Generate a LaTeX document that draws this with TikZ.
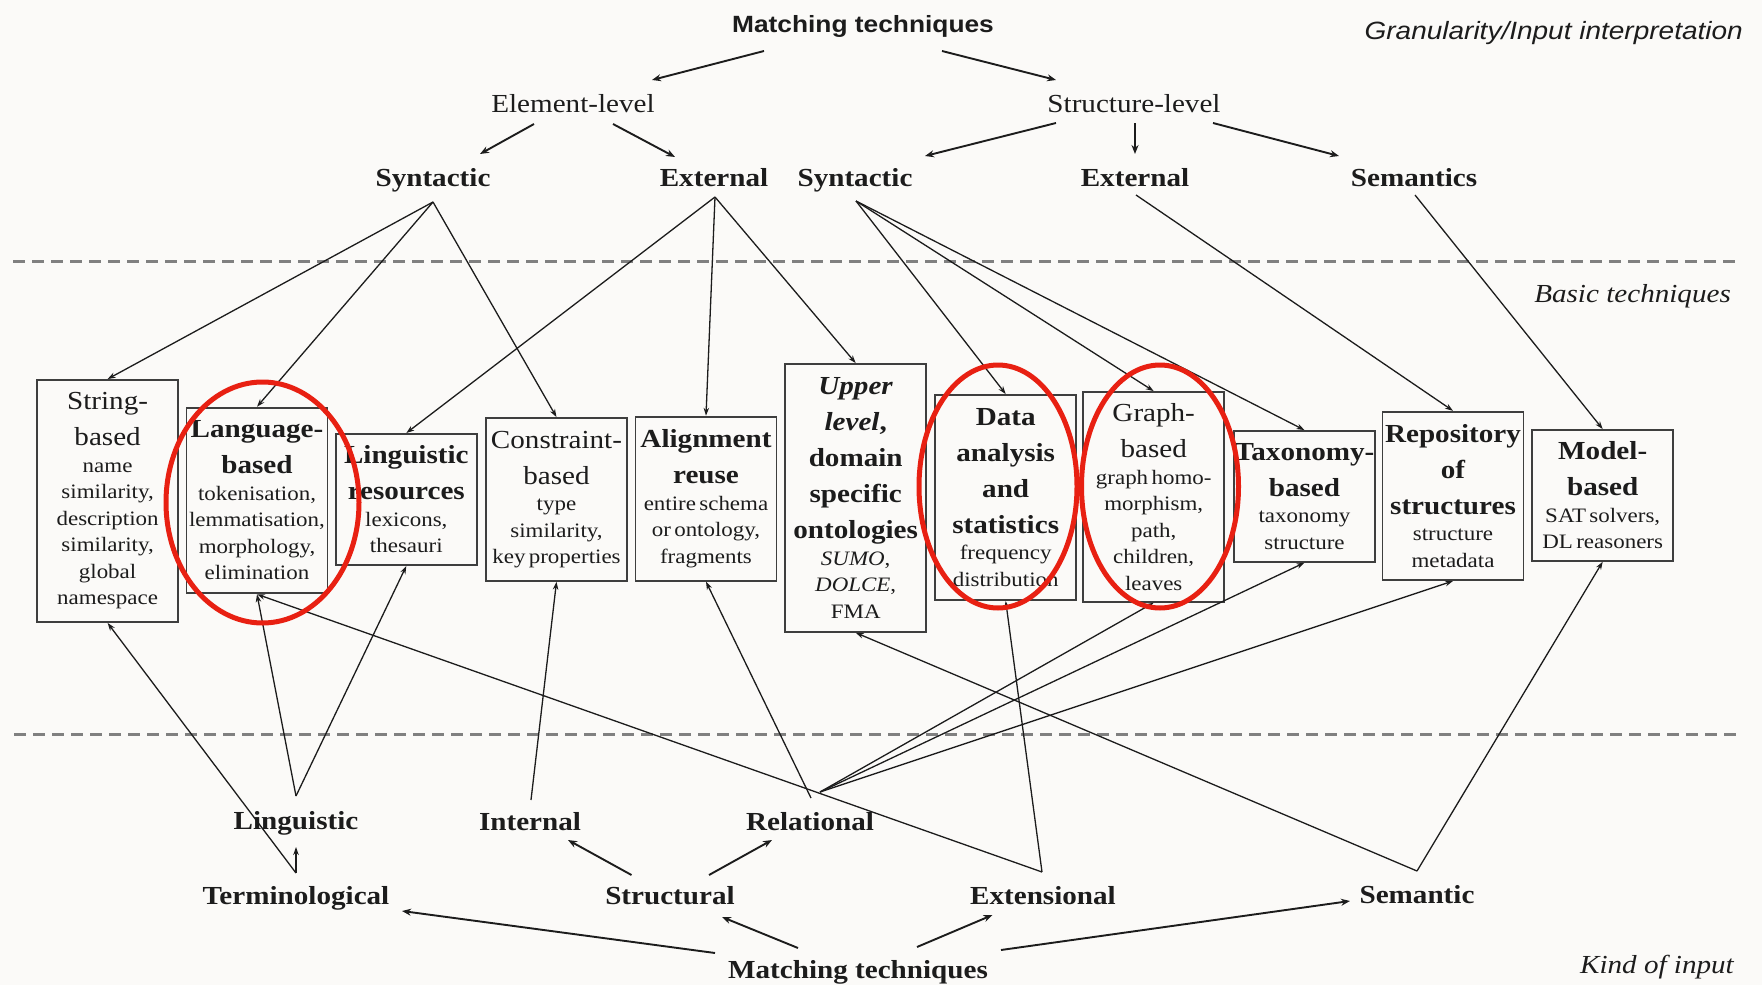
\documentclass[tikz,border=0pt]{standalone}
\usepackage{fontspec}
\setmainfont[FakeStretch=1.12]{Liberation Serif}
\setsansfont[FakeStretch=1.12]{Liberation Sans}
\usetikzlibrary{arrows.meta,calc}
\setlength{\parindent}{0pt}
\hyphenpenalty=10000
\exhyphenpenalty=10000
\definecolor{paper}{RGB}{251,250,248}
\definecolor{ink}{RGB}{28,28,28}
\definecolor{ringred}{RGB}{232,32,18}
\definecolor{rule}{RGB}{128,128,128}
% fonts inside the technique boxes
\newcommand\bxbold{\fontsize{26}{36}\selectfont\bfseries}
\newcommand\bxreg{\fontsize{26}{36}\selectfont}
\newcommand\bxsmall{\fontsize{20.5}{26.5}\selectfont}
\begin{document}
\begin{tikzpicture}[x=1pt,y=-1pt,
  lbl/.style={inner sep=0pt,text height=17.5pt,text depth=5.5pt,text=ink,
    font=\fontsize{26}{31}\selectfont\bfseries},
  lvl/.style={lbl,font=\fontsize{26}{31}\selectfont},
  side/.style={inner sep=0pt,anchor=east,text=ink},
  box/.style={draw=ink!85,line width=1.9pt,inner sep=0pt,align=center,
    text width=141pt,text=ink},
  con/.style={draw=ink,line width=1.3pt,-{Stealth[length=8pt,width=5.5pt]}},
  tree/.style={draw=ink,line width=1.9pt,-{Stealth[length=9pt,width=7pt]}},
  sepline/.style={draw=rule,line width=3pt,dash pattern=on 12pt off 7pt},
  ring/.style={draw=ringred,line width=5pt}]

\path[use as bounding box,fill=paper] (0,0) rectangle (1762,985);

% layer separators
\draw[sepline] (13,261) -- (1740,261);
\draw[sepline] (14,734) -- (1740,734);

% side captions
\node[side,font=\sffamily\itshape\fontsize{25}{30}\selectfont] (gran) at (1743,33) {Granularity/Input interpretation};
\node[side,font=\itshape\fontsize{26}{31}\selectfont] (basic) at (1731,296) {Basic techniques};
\node[side,font=\itshape\fontsize{26}{31}\selectfont] (kind) at (1734,967) {Kind of input};

% upper classification tree
\node[lbl,text height=17pt,text depth=5pt,font=\sffamily\bfseries\fontsize{23.5}{28}\selectfont] (mt1) at (863,26) {Matching techniques};
\node[lvl] (el) at (573,106) {Element-level};
\node[lvl] (sl) at (1134,106) {Structure-level};
\node[lbl] (syn1) at (433,180) {Syntactic};
\node[lbl] (ext1) at (714,180) {External};
\node[lbl] (syn2) at (855,180) {Syntactic};
\node[lbl] (ext2) at (1135,180) {External};
\node[lbl] (sem1) at (1414,180) {Semantics};

% lower classification tree
\node[lbl] (ling) at (296,823) {Linguistic};
\node[lbl] (intl) at (530,824) {Internal};
\node[lbl] (rel) at (810,824) {Relational};
\node[lbl] (term) at (296,898) {Terminological};
\node[lbl] (struct) at (670,898) {Structural};
\node[lbl] (extn) at (1043,898) {Extensional};
\node[lbl] (semb) at (1417,897) {Semantic};
\node[lbl] (mt2) at (858,972) {Matching techniques};

% basic techniques
\node[box,minimum height=242pt] (str) at (107.6,501) {{\bxreg String-\\based\par}{\bxsmall name\\similarity,\\description\\similarity,\\global\\namespace\par}};
\node[box,minimum height=185.6pt] (lang) at (257,500.5) {{\bxbold Language-\\based\par}{\bxsmall tokenisation,\\lemmatisation,\\morphology,\\elimination\par}};
\node[box,minimum height=131pt] (lingres) at (406.3,499.5) {{\bxbold Linguistic\\resources\par}{\bxsmall lexicons,\\thesauri\par}};
\node[box,minimum height=162.7pt] (cons) at (556.5,499.4) {{\bxreg Constraint-\\based\par}{\bxsmall type\\similarity,\\key properties\par}};
\node[box,minimum height=164pt] (align) at (706,498.7) {{\bxbold Alignment\\reuse\par}{\bxsmall entire schema\\or ontology,\\fragments\par}};
\node[box,minimum height=267.7pt] (upper) at (855.7,497.9) {{\bxbold\textit{Upper}\\\textit{level},\\domain\\specific\\ontologies\par}{\bxsmall\textit{SUMO},\\\textit{DOLCE},\\FMA\par}};
\node[box,minimum height=205pt] (data) at (1005.7,497.5) {{\bxbold Data\\analysis\\and\\statistics\par}{\bxsmall frequency\\distribution\par}};
\node[box,minimum height=209.7pt] (graph) at (1153.7,496.9) {{\bxreg Graph-\\based\par}{\bxsmall graph homo-\\morphism,\\path,\\children,\\leaves\par}};
\node[box,minimum height=130.7pt] (tax) at (1304.5,496.4) {{\bxbold Taxonomy-\\based\par}{\bxsmall taxonomy\\structure\par}};
\node[box,minimum height=168.3pt] (repo) at (1453,495.9) {{\bxbold Repository\\of\\structures\par}{\bxsmall structure\\metadata\par}};
\node[box,minimum height=130.7pt] (model) at (1602.7,495.4) {{\bxbold Model-\\based\par}{\bxsmall SAT solvers,\\DL reasoners\par}};

% upper tree arrows
\draw[tree] ($(mt1)+(-99,25)$) -- ($(el)+(79,-26)$);
\draw[tree] ($(mt1)+(79,25)$) -- ($(sl)+(-78,-26)$);
\draw[tree] ($(el)+(-39,18)$) -- ($(syn1)+(47,-26)$);
\draw[tree] ($(el)+(40,18)$) -- ($(ext1)+(-39,-23)$);
\draw[tree] ($(sl)+(-78,17)$) -- ($(syn2)+(70,-24)$);
\draw[tree] ($(sl)+(1,17)$) -- ($(ext2)+(0,-26)$);
\draw[tree] ($(sl)+(79,17)$) -- ($(sem1)+(-75,-24)$);

% lower tree arrows
\draw[tree] ($(mt2)+(-143,-19)$) -- ($(term)+(106,13)$);
\draw[tree] ($(mt2)+(-60,-24)$) -- ($(struct)+(52,19)$);
\draw[tree] ($(mt2)+(59,-25)$) -- ($(extn)+(-50.5,17)$);
\draw[tree] ($(mt2)+(143,-22)$) -- ($(semb)+(-67,4)$);
\draw[tree] ($(struct)+(-38.5,-23)$) -- ($(intl)+(38,16)$);
\draw[tree] ($(struct)+(39,-23)$) -- ($(rel)+(-38,16)$);

% line origins under the upper labels and above the lower labels
\coordinate (s1) at ($(syn1)+(0,22)$);
\coordinate (e1) at ($(ext1)+(1,17)$);
\coordinate (s2) at ($(syn2)+(1,21)$);
\coordinate (e2) at ($(ext2)+(1,15)$);
\coordinate (m1) at ($(sem1)+(1,15)$);
\coordinate (t0) at ($(term)+(0,-25)$);
\coordinate (l0) at ($(ling)+(0,-27)$);
\coordinate (i0) at ($(intl)+(1,-24)$);
\coordinate (r0) at ($(rel)+(1,-26)$);
\coordinate (r1) at ($(rel)+(10,-32)$);
\coordinate (x0) at ($(extn)+(-1,-26)$);
\coordinate (m0) at ($(semb)+(0,-26)$);

% granularity -> basic techniques
\draw[con] (s1) -- (str.north);
\draw[con] (s1) -- (lang.north);
\draw[con] (s1) -- (cons.north);
\draw[con] (e1) -- (lingres.north);
\draw[con] (e1) -- (align.north);
\draw[con] (e1) -- (upper.north);
\draw[con] (s2) -- (data.north);
\draw[con] (s2) -- (graph.north);
\draw[con] (s2) -- (tax.north);
\draw[con] (e2) -- (repo.north);
\draw[con] (m1) -- (model.north);

% kind of input -> basic techniques
\draw[con] (t0) -- ($(ling)+(0,24)$);
\draw[con] (t0) -- (str.south);
\draw[con] (l0) -- (lang.south);
\draw[con] (l0) -- (lingres.south);
\draw[con] (i0) -- (cons.south);
\draw[con] (r0) -- (align.south);
\draw[con] (r1) -- (graph.south);
\draw[con] (r1) -- (tax.south);
\draw[con] (r1) -- (repo.south);
\draw[con] (x0) -- (lang.south);
\draw[con] (x0) -- (data.south);
\draw[con] (m0) -- (upper.south);
\draw[con] (m0) -- (model.south);

% highlighted techniques
\draw[ring] (262.5,502.5) ellipse [x radius=96.5,y radius=120.5];
\draw[ring] (998,486.5) ellipse [x radius=79,y radius=121.5];
\draw[ring] (1160,486.5) ellipse [x radius=78.5,y radius=121.5];
\end{tikzpicture}
\end{document}
